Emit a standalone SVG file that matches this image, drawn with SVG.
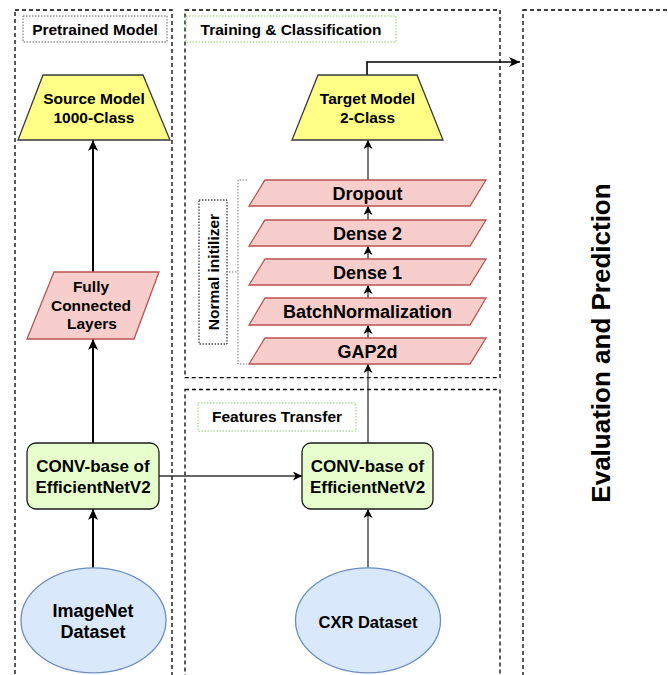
<svg xmlns="http://www.w3.org/2000/svg" width="668" height="675" viewBox="0 0 668 675">
  <defs>
    <marker id="ah" markerUnits="userSpaceOnUse" markerWidth="12" markerHeight="10" refX="11" refY="5" orient="auto">
      <path d="M0,0 L11,5 L0,10 L3,5 z" fill="#000"/>
    </marker>
    <marker id="ahs" markerUnits="userSpaceOnUse" markerWidth="10" markerHeight="9" refX="9" refY="4.5" orient="auto">
      <path d="M0,0 L9,4.5 L0,9 L2.5,4.5 z" fill="#000"/>
    </marker>
  </defs>
  <style>
    text { font-family: "Liberation Sans", Arial, Helvetica, sans-serif; font-weight: bold; fill: #000; text-anchor: middle; }
    .zone { fill: none; stroke: #000; stroke-width: 1.3; stroke-dasharray: 4 3; }
    .lbl-gray { fill: #fff; stroke: #666; stroke-width: 1; stroke-dasharray: 1.5 1.5; }
    .lbl-green { fill: #fff; stroke: #97d077; stroke-width: 1; stroke-dasharray: 1.5 1.5; }
    .lbl-black { fill: #fff; stroke: #000; stroke-width: 1; stroke-dasharray: 1.5 1.5; }
    .trap { fill: #ffff88; stroke: #36393d; stroke-width: 1.3; }
    .para { fill: #f8cecc; stroke: #b85450; stroke-width: 1.3; }
    .conv { fill: #e6ffcc; stroke: #1a1a1a; stroke-width: 1.3; }
    .ell { fill: #dae8fc; stroke: #6c8ebf; stroke-width: 1.3; }
    .t15 { font-size: 15.5px; }
    .t17 { font-size: 17px; }
    .t18 { font-size: 18px; }
    .c-thick { fill: none; stroke: #000; stroke-width: 2; marker-end: url(#ah); }
    .c-thin { fill: none; stroke: #333; stroke-width: 1.3; marker-end: url(#ahs); }
  </style>

  <!-- Zones -->
  <g id="zone-pretrained">
    <rect class="zone" x="15" y="10" width="157" height="700"/>
    <rect class="lbl-gray" x="23" y="16" width="144" height="26"/>
    <text class="t15" x="95" y="34.5">Pretrained Model</text>
  </g>
  <g id="zone-training">
    <rect class="zone" x="185" y="10" width="315" height="367.7"/>
    <rect class="lbl-green" x="186" y="16" width="210" height="26"/>
    <text class="t15" x="291" y="34.5">Training &amp; Classification</text>
  </g>
  <g id="zone-features">
    <rect class="zone" x="185" y="389.5" width="315" height="400"/>
    <rect class="lbl-green" x="198" y="403" width="158" height="28"/>
    <text class="t15" x="277" y="422">Features Transfer</text>
  </g>
  <g id="zone-eval">
    <rect class="zone" x="523" y="10" width="200" height="700"/>
    <text x="601" y="343" font-size="26" transform="rotate(-90 601 343)" dominant-baseline="central">Evaluation and Prediction</text>
  </g>

  <!-- Normal initializer bracket -->
  <g id="normal-initializer">
    <path d="M247,180 H238 V364 H247 M229,272 H238" fill="none" stroke="#777" stroke-width="1" stroke-dasharray="1.5 1.5"/>
    <rect class="lbl-black" x="199" y="200" width="28" height="144"/>
    <text class="t15" x="213" y="272" transform="rotate(-90 213 272)" dominant-baseline="central">Normal initilizer</text>
  </g>

  <!-- Connectors -->
  <g id="connectors">
    <path class="c-thick" d="M93,568 V509"/>
    <path class="c-thick" d="M93,443 V339"/>
    <path class="c-thick" d="M93,272 V140"/>
    <path class="c-thin" d="M159,476 H302"/>
    <path class="c-thin" d="M368,568 V509"/>
    <path class="c-thin" d="M368,443 V364"/>
    <path class="c-thin" d="M368,338 V325"/>
    <path class="c-thin" d="M368,298 V285"/>
    <path class="c-thin" d="M368,259 V246"/>
    <path class="c-thin" d="M368,220 V206"/>
    <path class="c-thin" d="M368,180 V140"/>
    <path class="c-thick" style="stroke-width:1.6" d="M367,75 V62 H520"/>
  </g>

  <!-- Left column nodes -->
  <g id="source-model">
    <polygon class="trap" points="43,75 143,75 170,140 18,140"/>
    <text class="t15" x="94" y="104">Source Model</text>
    <text class="t15" x="94" y="123">1000-Class</text>
  </g>
  <g id="fc-layers">
    <polygon class="para" points="54,272 159,272 134,339 27,339"/>
    <text class="t15" x="91" y="292">Fully</text>
    <text class="t15" x="91" y="310.5">Connected</text>
    <text class="t15" x="92" y="329">Layers</text>
  </g>
  <g id="conv-left">
    <rect class="conv" x="27" y="443" width="132" height="66" rx="9"/>
    <text class="t17" x="93" y="471.5">CONV-base of</text>
    <text class="t17" x="93" y="492.5">EfficientNetV2</text>
  </g>
  <g id="imagenet">
    <ellipse class="ell" cx="93.5" cy="620.3" rx="72.5" ry="52.5"/>
    <text class="t18" x="93" y="617">ImageNet</text>
    <text class="t18" x="93" y="638">Dataset</text>
  </g>

  <!-- Right column nodes -->
  <g id="target-model">
    <polygon class="trap" points="318,75 417,75 443,140 292,140"/>
    <text class="t15" x="367.5" y="104">Target Model</text>
    <text class="t15" x="367.5" y="123">2-Class</text>
  </g>
  <g id="dropout">
    <polygon class="para" points="265,180 486,180 470,206 249,206"/>
    <text class="t18" x="367.5" y="199.5">Dropout</text>
  </g>
  <g id="dense2">
    <polygon class="para" points="265,220 486,220 470,246 249,246"/>
    <text class="t18" x="367.5" y="239.5">Dense 2</text>
  </g>
  <g id="dense1">
    <polygon class="para" points="265,259 486,259 470,285 249,285"/>
    <text class="t18" x="367.5" y="278.5">Dense 1</text>
  </g>
  <g id="batchnorm">
    <polygon class="para" points="265,298 486,298 470,325 249,325"/>
    <text class="t18" x="367.5" y="318">BatchNormalization</text>
  </g>
  <g id="gap2d">
    <polygon class="para" points="265,338 486,338 470,364 249,364"/>
    <text class="t18" x="367.5" y="357.5">GAP2d</text>
  </g>
  <g id="conv-right">
    <rect class="conv" x="302" y="443" width="131" height="66" rx="9"/>
    <text class="t17" x="367.5" y="471.5">CONV-base of</text>
    <text class="t17" x="367.5" y="492.5">EfficientNetV2</text>
  </g>
  <g id="cxr">
    <ellipse class="ell" cx="368" cy="620.3" rx="72.5" ry="52.5"/>
    <text class="t17" x="368" y="628" style="font-size:16.5px">CXR Dataset</text>
  </g>
</svg>
